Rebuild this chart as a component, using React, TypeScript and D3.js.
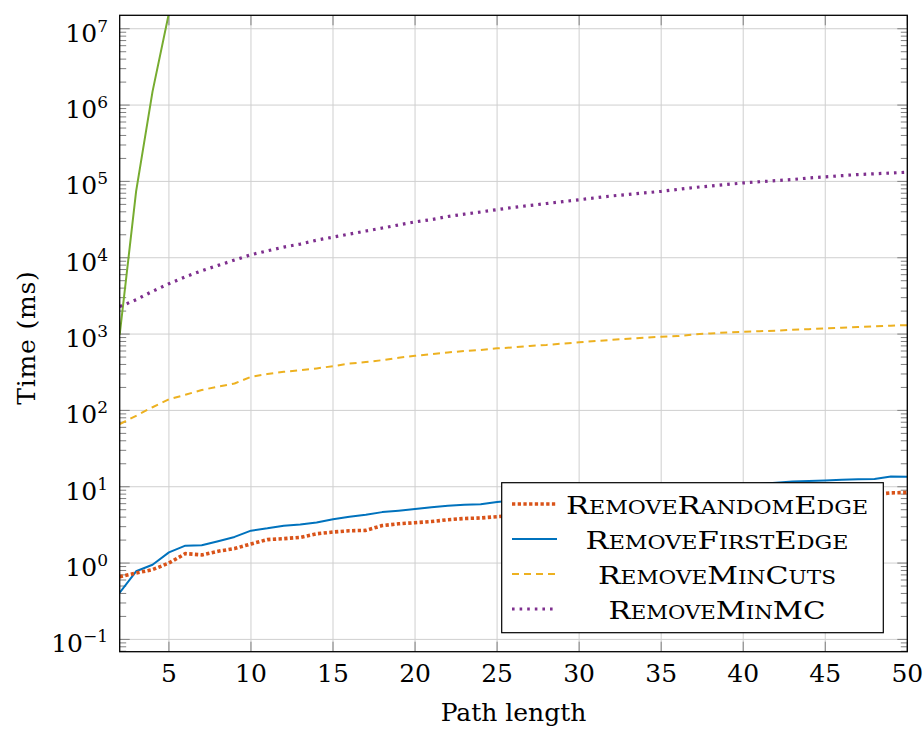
import React from 'react';
import * as d3 from 'd3';

// ---- data ----
const pathLength = [2, 3, 4, 5, 6, 7, 8, 9, 10, 11, 12, 13, 14, 15, 16, 17, 18, 19, 20, 21, 22, 23, 24, 25, 26,
  27, 28, 29, 30, 31, 32, 33, 34, 35, 36, 37, 38, 39, 40, 41, 42, 43, 44, 45, 46, 47, 48, 49, 50];

const removeRandomEdge = [0.66, 0.74, 0.82, 1.0, 1.33, 1.28, 1.43, 1.55, 1.78, 2.03, 2.09, 2.17, 2.42, 2.55, 2.65,
  2.68, 3.1, 3.27, 3.38, 3.5, 3.7, 3.83, 3.9, 4.05, 4.2, 4.35, 4.5, 4.65, 4.8, 4.95, 5.1, 5.25, 5.4, 5.55, 5.7,
  5.85, 6.0, 6.15, 6.3, 6.5, 6.65, 6.85, 7.0, 7.2, 7.4, 7.6, 7.9, 8.3, 8.4];

const removeFirstEdge = [0.41, 0.78, 0.95, 1.38, 1.69, 1.71, 1.93, 2.2, 2.66, 2.85, 3.09, 3.2, 3.4, 3.75, 4.05,
  4.3, 4.65, 4.85, 5.1, 5.4, 5.65, 5.8, 5.9, 6.3, 6.6, 6.9, 7.1, 7.4, 7.6, 7.9, 8.1, 8.4, 8.6, 8.9, 9.2, 9.5,
  9.8, 10.1, 10.5, 10.9, 11.3, 11.7, 11.9, 12.1, 12.3, 12.5, 12.6, 13.6, 13.5];

const removeMinCuts = [66, 85, 110, 140, 160, 185, 205, 225, 275, 300, 320, 335, 355, 380, 410, 430, 455, 490,
  520, 545, 575, 600, 620, 650, 670, 700, 720, 750, 780, 810, 840, 870, 900, 920, 940, 990, 1020, 1050, 1070,
  1090, 1110, 1140, 1160, 1190, 1210, 1240, 1260, 1290, 1310];

const removeMinMC = [2290, 2820, 3630, 4570, 5620, 6760, 7940, 9330, 10960, 12300, 13800, 15100, 17000, 18600,
  20400, 22400, 24500, 26900, 29500, 31600, 34700, 37200, 39800, 42700, 45700, 48400, 51300, 54300, 57500,
  61000, 64600, 67600, 70800, 74100, 78500, 83200, 87100, 91200, 95500, 98900, 102300, 105900, 110900, 114800,
  118900, 123000, 125900, 128800, 131800];

// unlabelled (green) series
const extraX = [2, 3, 4, 5];
const extraY = [980, 74000, 1500000, 16000000];

const xTicks = [5, 10, 15, 20, 25, 30, 35, 40, 45, 50];
const yTickExponents = [-1, 0, 1, 2, 3, 4, 5, 6, 7];
const legendLabels = ['RemoveRandomEdge', 'RemoveFirstEdge', 'RemoveMinCuts', 'RemoveMinMC'];
const xDomain = [2, 50];
const yDomain = [0.069, 1.5e7];

// ---- layout / style ----
const W = 924;
const H = 729;
const L = 119.7, R = 907.3, T = 15.3, B = 651.7;
const FONT = "'DejaVu Serif', 'Liberation Serif', serif";

const seriesStyles = [
  { color: '#D95319', width: 3.6, dash: '3.3 2.4' },
  { color: '#0072BD', width: 2, dash: '' },
  { color: '#EDB120', width: 2, dash: '7 5' },
  { color: '#7E2F8E', width: 3.2, dash: '2.6 5' },
];
const legendTextWidths = [302, 263, 238, 217];

export default function App() {
  const x = d3.scaleLinear().domain(xDomain).range([L, R]);
  const y = d3.scaleLog().domain(yDomain).range([B, T]);

  const seriesData = [removeRandomEdge, removeFirstEdge, removeMinCuts, removeMinMC];
  const line = d3.line<[number, number]>().x(d => x(d[0])).y(d => y(d[1]));

  const minorTicks: number[] = [];
  for (let k = -2; k <= 7; k++) {
    for (let m = 2; m <= 9; m++) {
      const v = m * Math.pow(10, k);
      if (v > yDomain[0] && v < yDomain[1]) minorTicks.push(v);
    }
  }

  const gridColor = '#cfcfcf';
  const tickColor = '#808080';

  const legendX0 = 501.7, legendY0 = 482.7, legendW = 381.6, legendH = 150;
  const rowY = (i: number) => 504 + i * 35;

  return (
    <svg width={W} height={H} style={{ position: 'absolute', left: 0, top: 0, background: '#fff', fontFamily: FONT }}>
      <defs>
        <clipPath id="plotClip">
          <rect x={L} y={T} width={R - L} height={B - T} />
        </clipPath>
      </defs>
      <rect x={0} y={0} width={W} height={H} fill="#fff" />

      {/* grid */}
      <g stroke={gridColor} strokeWidth={1}>
        {xTicks.map(t => (
          <line key={'gx' + t} x1={x(t)} x2={x(t)} y1={T} y2={B} />
        ))}
        {yTickExponents.map(e => (
          <line key={'gy' + e} x1={L} x2={R} y1={y(Math.pow(10, e))} y2={y(Math.pow(10, e))} />
        ))}
      </g>

      {/* ticks */}
      <g stroke={tickColor} strokeWidth={1}>
        {xTicks.map(t => (
          <g key={'tx' + t}>
            <line x1={x(t)} x2={x(t)} y1={B} y2={B - 10} />
            <line x1={x(t)} x2={x(t)} y1={T} y2={T + 10} />
          </g>
        ))}
        {yTickExponents.map(e => (
          <g key={'ty' + e}>
            <line x1={L} x2={L + 10} y1={y(Math.pow(10, e))} y2={y(Math.pow(10, e))} />
            <line x1={R} x2={R - 10} y1={y(Math.pow(10, e))} y2={y(Math.pow(10, e))} />
          </g>
        ))}
        {minorTicks.map((v, i) => (
          <g key={'mt' + i}>
            <line x1={L} x2={L + 6.5} y1={y(v)} y2={y(v)} />
            <line x1={R} x2={R - 6.5} y1={y(v)} y2={y(v)} />
          </g>
        ))}
      </g>

      {/* series */}
      <g clipPath="url(#plotClip)" fill="none">
        <path d={line(extraX.map((v, i) => [v, extraY[i]]) as any) || ''} stroke="#77AC30" strokeWidth={2} />
        {[2, 3, 1, 0].map(si => (
          <path key={'s' + si}
            d={line(pathLength.map((v, i) => [v, seriesData[si][i]]) as any) || ''}
            stroke={seriesStyles[si].color}
            strokeWidth={seriesStyles[si].width}
            strokeDasharray={seriesStyles[si].dash || undefined}
            strokeLinejoin="round" />
        ))}
      </g>

      {/* frame */}
      <rect x={L} y={T} width={R - L} height={B - T} fill="none" stroke="#000" strokeWidth={1.3} />

      {/* tick labels */}
      <g fontSize={25} fill="#000" style={{ fontFamily: FONT }}>
        {xTicks.map(t => (
          <text key={'lx' + t} x={x(t)} y={682} textAnchor="middle">{t}</text>
        ))}
        {yTickExponents.map(e => (
          <text key={'ly' + e} x={108} y={y(Math.pow(10, e)) + 13} textAnchor="end">
            <tspan>10</tspan>
            <tspan fontSize={17} dy={-10}>{e < 0 ? '\u2212' + Math.abs(e) : String(e)}</tspan>
          </text>
        ))}
      </g>

      {/* axis labels */}
      <text x={(L + R) / 2} y={721} textAnchor="middle" fontSize={25} style={{ fontFamily: FONT }}>Path length</text>
      <text transform={`translate(35, ${(T + B) / 2 + 4}) rotate(-90)`} textAnchor="middle" fontSize={25}
        letterSpacing={0.8} style={{ fontFamily: FONT }}>Time (ms)</text>

      {/* legend */}
      <g>
        <rect x={legendX0} y={legendY0} width={legendW} height={legendH} fill="#fff" stroke="#000" strokeWidth={1.2} />
        {legendLabels.map((lab, i) => (
          <g key={'lg' + i}>
            <line x1={512} x2={557} y1={rowY(i)} y2={rowY(i)}
              stroke={seriesStyles[i].color} strokeWidth={seriesStyles[i].width}
              strokeDasharray={seriesStyles[i].dash || undefined} />
            <text x={717} y={rowY(i) + 9.5} textAnchor="middle" fontSize={25}
              style={{ fontVariant: 'small-caps', fontFamily: FONT }}
              textLength={legendTextWidths[i]} lengthAdjust="spacingAndGlyphs">{lab}</text>
          </g>
        ))}
      </g>
    </svg>
  );
}
